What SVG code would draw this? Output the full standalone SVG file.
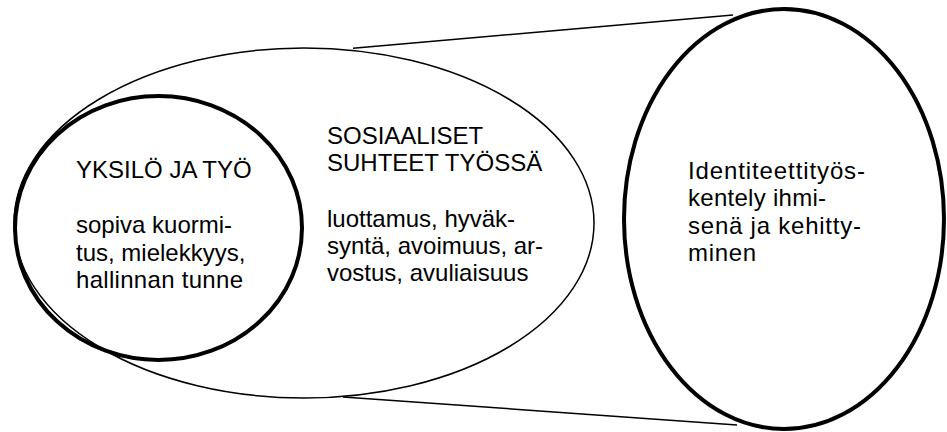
<svg xmlns="http://www.w3.org/2000/svg" width="947" height="432" viewBox="0 0 947 432">
<style>
.thin{fill:none;stroke:#000;stroke-width:1.5}
.thick{fill:none;stroke:#000;stroke-width:4}
.t{font-family:"Liberation Sans",Arial,sans-serif;font-size:24px;fill:#000}
</style>
<rect width="947" height="432" fill="#fff"/>
<g id="connectors">
<line class="thin" x1="353" y1="48.3" x2="733" y2="15"/>
<line class="thin" x1="343" y1="397" x2="737" y2="425"/>
</g>
<g id="sosiaaliset">
<ellipse class="thin" cx="304" cy="223" rx="290" ry="175"/>
<text class="t"><tspan x="327" y="143.5">SOSIAALISET</tspan><tspan x="327" y="171">SUHTEET TYÖSSÄ</tspan><tspan x="327" y="227">luottamus, hyväk-</tspan><tspan x="327" y="254">syntä, avoimuus, ar-</tspan><tspan x="327" y="281">vostus, avuliaisuus</tspan></text>
</g>
<g id="yksilo">
<ellipse class="thick" cx="158.5" cy="228" rx="143.5" ry="132"/>
<text class="t"><tspan x="76" y="178">YKSILÖ JA TYÖ</tspan><tspan x="76" y="233">sopiva kuormi-</tspan><tspan x="76" y="260.5">tus, mielekkyys,</tspan><tspan x="76" y="288" textLength="167" lengthAdjust="spacing">hallinnan tunne</tspan></text>
</g>
<g id="identiteetti">
<ellipse class="thick" cx="784" cy="219" rx="160" ry="210"/>
<text class="t"><tspan x="688" y="178.5" textLength="177" lengthAdjust="spacing">Identiteettityös-</tspan><tspan x="688" y="206" textLength="138" lengthAdjust="spacing">kentely ihmi-</tspan><tspan x="688" y="233.5" textLength="173" lengthAdjust="spacing">senä ja kehitty-</tspan><tspan x="688" y="261" textLength="68" lengthAdjust="spacing">minen</tspan></text>
</g>
</svg>
